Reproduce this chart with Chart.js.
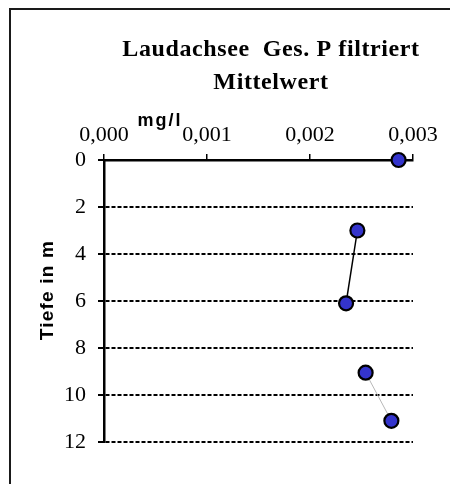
<!DOCTYPE html>
<html>
<head>
<meta charset="utf-8">
<script src="https://cdn.jsdelivr.net/npm/chart.js@4/dist/chart.umd.min.js"></script>
<style>
  body { margin: 0; background: #fff; }
  #wrap { position: relative; width: 450px; height: 484px; }
  #frame { position: absolute; left: 9px; top: 8px; right: -4px; bottom: -4px;
           border-left: 2px solid #1a1a1a; border-top: 2px solid #1a1a1a; }
  #chart { position: absolute; left: 0; top: 0; }
</style>
</head>
<body>
<div id="wrap">
  <div id="frame"></div>
  <canvas id="chart" width="450" height="484"></canvas>
</div>
<script>
// Laudachsee – Ges. P filtriert, Mittelwert je Tiefe
const depths = [0, 3, 6.1, 9.05, 11.1];          // Tiefe in m
const pValues = [0.00286, 0.00246, 0.00235, 0.00254, 0.00279]; // mg/l
const xTicks = [0, 0.001, 0.002, 0.003];
const yTicks = [0, 2, 4, 6, 8, 10, 12];

const titleLines = ['Laudachsee  Ges. P filtriert', 'Mittelwert'];
const xTitle = 'mg/l';
const yTitle = 'Tiefe in m';

const serif = '"Liberation Serif", "Times New Roman", serif';
const sans = '"Liberation Sans", Arial, sans-serif';

// titles drawn by hand so the plot area stays where it is in the original
const labelsPlugin = {
    id: 'labels',
    afterDraw(chart) {
        const c = chart.ctx;
        c.save();
        c.fillStyle = '#000';
        c.textAlign = 'center';
        c.textBaseline = 'alphabetic';
        c.font = 'bold 24px ' + serif;
        c.letterSpacing = '0.6px';
        c.fillText(titleLines[0], 271, 56);
        c.fillText(titleLines[1], 271, 89);

        c.font = 'bold 18px ' + sans;
        c.letterSpacing = '2px';
        c.fillText(xTitle, 160, 126);

        c.translate(53, 290);
        c.rotate(-Math.PI / 2);
        c.font = 'bold 19px ' + sans;
        c.letterSpacing = '1.2px';
        c.fillText(yTitle, 0, 0);
        c.restore();
    }
};

// only 3→6 m and 9→11 m are joined in the original
function segColor(ctx) {
    if (ctx.p0DataIndex === 1) return '#000';
    if (ctx.p0DataIndex === 3) return '#b8b8b8';
    return 'transparent';
}

new Chart(document.getElementById('chart'), {
    type: 'scatter',
    data: {
        datasets: [{
            data: depths.map((d, i) => ({ x: pValues[i], y: d })),
            showLine: true,
            borderColor: '#000',
            borderWidth: 1.5,
            segment: {
                borderColor: segColor,
                borderWidth: ctx => ctx.p0DataIndex === 1 ? 1.5 : 1
            },
            pointRadius: 7,
            pointHoverRadius: 7,
            pointBackgroundColor: '#3434cc',
            pointBorderColor: '#000',
            pointBorderWidth: 2.2,
            clip: false
        }]
    },
    options: {
        responsive: false,
        animation: false,
        layout: { padding: { top: 100, right: 37, bottom: 42, left: 0 } },
        plugins: { legend: { display: false }, tooltip: { enabled: false } },
        scales: {
            x: {
                type: 'linear',
                position: 'top',
                min: 0, max: 0.003,
                afterBuildTicks: s => { s.ticks = xTicks.map(v => ({ value: v })); },
                afterFit: s => { s.height = 60; },
                border: { color: '#000', width: 2.5 },
                grid: { drawOnChartArea: false, drawTicks: true, tickLength: 6, color: '#000', lineWidth: 1.5 },
                ticks: {
                    color: '#000', padding: 6,
                    font: { family: serif, size: 22 },
                    callback: v => v.toFixed(3).replace('.', ',')
                }
            },
            y: {
                type: 'linear',
                reverse: true,
                min: 0, max: 12,
                afterBuildTicks: s => { s.ticks = yTicks.map(v => ({ value: v })); },
                afterFit: s => { s.width = 104; },
                border: { color: '#000', width: 2.5, dash: [4, 2] },
                grid: {
                    color: '#000', lineWidth: 2, tickLength: 6,
                    tickBorderDash: []
                },
                ticks: {
                    color: '#000', padding: 12,
                    font: { family: serif, size: 22 }
                }
            }
        }
    },
    plugins: [labelsPlugin]
});
</script>
</body>
</html>
